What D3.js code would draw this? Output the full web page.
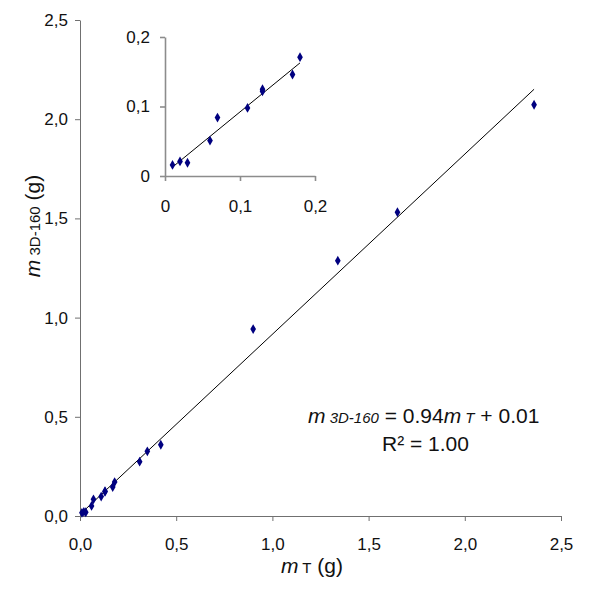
<!DOCTYPE html>
<html>
<head>
<meta charset="utf-8">
<style>
    body { margin: 0; background: #fff; }
    svg { font-family: 'Liberation Sans', Arial, sans-serif; }
    .axis .domain, .axis .tick line { stroke: #707070; }
    .inset .domain, .inset .tick line { stroke: #8c8c8c; stroke-width: 1.6px; }
    .axis .tick text { font-size: 17px; fill: #111; }
</style>
</head>
<body>
<svg width="600" height="594"></svg>
<script src="https://d3js.org/d3.v7.min.js"></script>
<script>
// measured masses (g): tomography (mT) vs 3D-160
let mT  = [0.01, 0.02, 0.03, 0.06, 0.07, 0.11, 0.13, 0.13, 0.17, 0.18, 0.31, 0.35, 0.42, 0.90, 1.34, 1.65, 2.36];
let m3D = [0.016, 0.021, 0.019, 0.051, 0.084, 0.098, 0.122, 0.125, 0.146, 0.171, 0.274, 0.326, 0.359, 0.942, 1.287, 1.531, 2.073];

let mainTicks = [0, 0.5, 1.0, 1.5, 2.0, 2.5];
let insetTicks = [0, 0.1, 0.2];

// trend lines as drawn
let mainTrend = { slope: 0.908, intercept: 0.008 };
let insetTrend = { slope: 0.882, intercept: 0.004 };
let insetMax = 0.2;

let data = mT.map((d, i) => ({ x: d, y: m3D[i] }));
let insetData = data.filter(d => d.x < insetMax);

let svg = d3.select("svg");
let comma = d => d3.format(".1f")(d).replace(".", ",");
let commaInset = d => d === 0 ? "0" : comma(d);

// main chart
let x = d3.scaleLinear().domain([0, 2.5]).range([80, 561]);
let y = d3.scaleLinear().domain([0, 2.5]).range([516, 20]);

svg.append("g")
    .attr("class", "axis")
    .attr("transform", "translate(0,516)")
    .call(d3.axisBottom(x).tickValues(mainTicks).tickFormat(comma).tickSize(5).tickSizeOuter(0).tickPadding(17));

svg.append("g")
    .attr("class", "axis")
    .attr("transform", "translate(80,0)")
    .call(d3.axisLeft(y).tickValues(mainTicks).tickFormat(comma).tickSize(5).tickSizeOuter(0).tickPadding(7));

let trendLine = (t, xs) => d3.extent(xs).map(v => ({ x: v, y: t.slope * v + t.intercept }));

svg.append("path")
    .attr("d", d3.line().x(d => x(d.x)).y(d => y(d.y))(trendLine(mainTrend, mT)))
    .style("stroke", "#000")
    .style("stroke-width", 1)
    .style("fill", "none");

let diamond = d3.symbol().type(d3.symbolDiamond).size(28);

svg.append("g").selectAll("path")
    .data(data)
    .join("path")
    .attr("transform", d => `translate(${x(d.x)},${y(d.y)})`)
    .attr("d", diamond)
    .style("fill", "#000080");

// inset
let xi = d3.scaleLinear().domain([0, insetMax]).range([165, 315]);
let yi = d3.scaleLinear().domain([0, insetMax]).range([176, 37]);

svg.append("g")
    .attr("class", "axis inset")
    .attr("transform", "translate(0,176)")
    .call(d3.axisBottom(xi).tickValues(insetTicks).tickFormat(commaInset).tickSize(5).tickSizeOuter(0).tickPadding(19));

svg.append("g")
    .attr("class", "axis inset")
    .attr("transform", "translate(165,0)")
    .call(d3.axisLeft(yi).tickValues(insetTicks).tickFormat(commaInset).tickSize(5).tickSizeOuter(0).tickPadding(10));

svg.append("path")
    .attr("d", d3.line().x(d => xi(d.x)).y(d => yi(d.y))(trendLine(insetTrend, insetData.map(d => d.x))))
    .style("stroke", "#000")
    .style("stroke-width", 1)
    .style("fill", "none");

svg.append("g").selectAll("path")
    .data(insetData)
    .join("path")
    .attr("transform", d => `translate(${xi(d.x)},${yi(d.y)})`)
    .attr("d", diamond)
    .style("fill", "#000080");

// axis titles
let xt = svg.append("text")
    .attr("x", 312).attr("y", 573)
    .attr("text-anchor", "middle")
    .attr("font-size", "21px").attr("fill", "#111");
xt.append("tspan").text("m").attr("font-style", "italic");
xt.append("tspan").text(" T").attr("font-size", "15px");
xt.append("tspan").text(" (g)");

let yt = svg.append("text")
    .attr("transform", "translate(40,226) rotate(-90)")
    .attr("text-anchor", "middle")
    .attr("font-size", "21px").attr("fill", "#111");
yt.append("tspan").text("m").attr("font-style", "italic");
yt.append("tspan").text(" 3D-160").attr("font-size", "15px");
yt.append("tspan").text(" (g)");

// equation
let eq = svg.append("text")
    .attr("x", 308).attr("y", 423)
    .attr("font-size", "21px").attr("fill", "#111");
eq.append("tspan").text("m").attr("font-style", "italic");
eq.append("tspan").text(" 3D-160").attr("font-style", "italic").attr("font-size", "15px");
eq.append("tspan").text(" = 0.94");
eq.append("tspan").text("m").attr("font-style", "italic");
eq.append("tspan").text(" T").attr("font-style", "italic").attr("font-size", "15px");
eq.append("tspan").text(" + 0.01");

svg.append("text")
    .attr("x", 382).attr("y", 451)
    .attr("font-size", "21px").attr("fill", "#111")
    .text("R² = 1.00");
</script>
</body>
</html>
